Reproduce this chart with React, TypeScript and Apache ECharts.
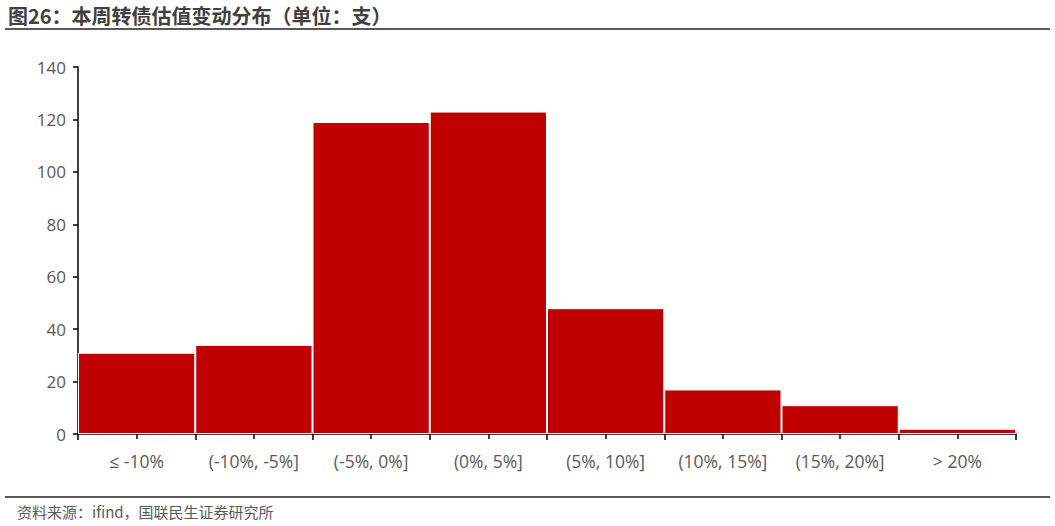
import React, { useEffect, useRef } from 'react';
import * as echarts from 'echarts';

// 估值变动区间
const categories = ['≤ -10%', '(-10%, -5%]', '(-5%, 0%]', '(0%, 5%]', '(5%, 10%]', '(10%, 15%]', '(15%, 20%]', '> 20%'];
// 转债数量（支）
const counts = [31, 34, 119, 123, 48, 17, 11, 2];
const yTicks = [0, 20, 40, 60, 80, 100, 120, 140];

const titleText = '图26：本周转债估值变动分布（单位：支）';
const sourceText = '资料来源：ifind，国联民生证券研究所';

const labelFont = '"Open Sans", "Noto Sans", sans-serif';
const cjkFont = '"Noto Sans CJK SC", "Microsoft YaHei", sans-serif';

function App() {
  const chartRef = useRef<HTMLDivElement>(null);

  useEffect(() => {
    document.body.style.margin = '0';
    if (!chartRef.current) return undefined;

    const option = {
      animation: false,
      backgroundColor: '#ffffff',
      graphic: [
        {
          type: 'text',
          left: 8,
          top: 5,
          style: {
            text: titleText,
            fill: '#404040',
            font: `bold 20px ${cjkFont}`,
          },
        },
        {
          type: 'line',
          shape: { x1: 5, y1: 29, x2: 1050, y2: 29 },
          style: { stroke: '#595959', lineWidth: 2 },
        },
        {
          type: 'line',
          shape: { x1: 5, y1: 497, x2: 1050, y2: 497 },
          style: { stroke: '#595959', lineWidth: 2 },
        },
        {
          type: 'text',
          left: 17,
          top: 504,
          style: {
            text: sourceText,
            fill: '#595959',
            font: `15px ${cjkFont}`,
          },
        },
      ],
      grid: {
        left: 78,
        right: 39,
        top: 67,
        bottom: 92,
      },
      xAxis: [
        {
          type: 'category',
          data: categories,
          axisLine: { lineStyle: { color: '#000000', width: 1.5 } },
          axisTick: { show: true, interval: 0, length: 6, lineStyle: { color: '#000000', width: 1.5 } },
          axisLabel: {
            interval: 0,
            margin: 18,
            color: '#595959',
            fontSize: 17.5,
            fontFamily: labelFont,
          },
        },
        {
          // 类别中点的短刻度
          type: 'category',
          data: categories,
          position: 'bottom',
          axisLine: { show: false },
          axisTick: { show: true, alignWithLabel: true, interval: 0, length: 5, lineStyle: { color: '#000000', width: 1.5 } },
          axisLabel: { show: false },
        },
      ],
      yAxis: {
        type: 'value',
        min: yTicks[0],
        max: yTicks[yTicks.length - 1],
        interval: 20,
        splitLine: { show: false },
        axisLine: { show: true, lineStyle: { color: '#000000', width: 1.5 } },
        axisTick: { show: true, length: 5, lineStyle: { color: '#000000', width: 1.5 } },
        axisLabel: {
          margin: 12,
          color: '#595959',
          fontSize: 17,
          fontFamily: labelFont,
        },
      },
      series: [
        {
          type: 'bar',
          xAxisIndex: 0,
          data: counts,
          barCategoryGap: 0,
          itemStyle: {
            color: '#C00000',
            borderColor: '#ffffff',
            borderWidth: 1,
          },
        },
      ],
    };

    const myChart = echarts.init(chartRef.current, null, { renderer: 'svg' });
    myChart.setOption(option);

    return () => {
      myChart.dispose();
    };
  }, []);

  return <div ref={chartRef} style={{ width: '1055px', height: '526px' }} />;
}

export default App;
